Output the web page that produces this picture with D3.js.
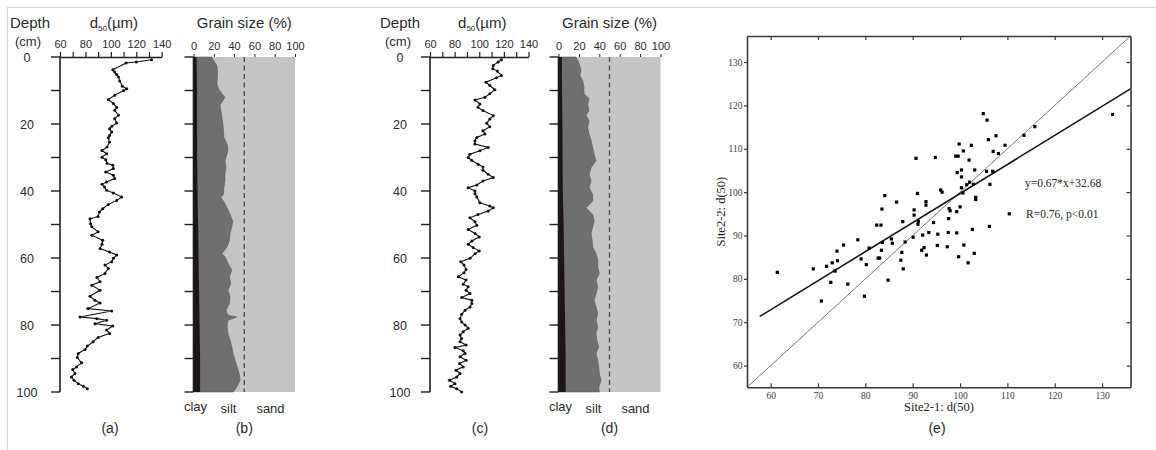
<!DOCTYPE html>
<html><head><meta charset="utf-8">
<script src="https://cdn.jsdelivr.net/npm/d3@7"></script>
<style>body{margin:0;background:#fff;}</style>
</head><body><svg id="c" width="1156" height="450" font-family="Liberation Sans, Arial, sans-serif"></svg>
<script>
// ---------- Panel (a): Site 2-1 d50 profile ----------
const depthA = [0.8,1.5,1.8,3.8,4.5,5.2,6,7.2,8.7,9.5,10,11.4,12.7,13.9,15.1,15.9,17.4,18.4,19.7,20.7,21.4,22.4,23.4,24.1,25.4,26.9,27.9,28.9,29.9,30.7,31.7,32.3,33.3,34.3,35.3,36.3,37.3,38,38.8,39.8,40.6,41.8,42.8,44,45.3,46.3,47.6,48.3,49.8,50.7,52.2,53.2,54.7,55.9,57.2,58.2,59.1,60.1,61.1,62.1,63.1,64.6,65.8,67.1,68.1,69.6,71.4,72.6,73.4,75.1,75.8,77.6,78.1,78.6,79.6,80.3,81.5,82.5,83.7,85,86.3,87.3,88.5,89.7,91.3,92.5,93.3,94.5,95.5,96.5,97.5,98.3,99];
const d50A = [132,120,112,101.5,103,104.6,106,107,109,112.5,110,103,98,102,104.6,103,106,103,104.6,100.7,99,100.7,99,98,99,97,93,96.7,93,96,97,101.5,102,96,102,103,96.7,93,95,96.7,102,108.5,104.6,98,93.6,91,90,83.6,84,85,90,85,93.6,93,91.5,99,104.6,102,100.7,95.4,98,95.4,89,91.5,85,91.5,83.6,87.5,91.5,82,100.7,75.7,89,96.7,87.5,101.5,96.7,99,90,86,81.5,79.7,74.4,73.6,77,73,70,71.8,69,71,74.4,78.4,81.5];

// ---------- Panel (c): Site 2-2 d50 profile ----------
const depthC = [0.8,1.5,2.5,3.5,4.2,5.5,6.2,7.5,8.5,9.8,11,12,12.8,14,15,16,17.5,18.5,19.8,20.8,22,23,24,25,26,27,28,29,30,30.8,32,32.8,33.8,35,36,37,38.2,39,40,40.8,41.8,43.5,44.5,45,46,47,48,49.2,50.2,51.5,52.7,53.7,54.9,55.9,56.9,57.9,58.7,60.1,61.1,62.1,63.4,64.4,65.6,66.6,67.8,68.6,69.6,70.6,71.8,72.6,73.6,74.6,75.6,76.8,78.1,79.1,80,81,82,83,84,85,86,86.7,87.7,88.5,89.5,90.5,91.5,92.5,93.5,94.5,95.5,96.5,97.5,98.3,99,100];
const d50C = [118,115.4,111.4,111,114.6,118,114,105.4,108.6,112.7,108.6,104.6,96.5,100.5,99,103,111.4,108.6,106,108.6,103,104.6,98,96.5,96.5,107.3,100.5,92.4,91,93.8,99,103,103,107.3,111.4,103,98,91,96.5,96.5,98,100.5,108.6,111.4,107.3,99,92.4,96.6,98,91,96.6,100,94,91,95,100,96.6,92.5,85,87.6,89.3,87.6,83,89.3,87,91,89.3,92.5,85.7,94,94,92.5,88.5,85.7,84.4,85.7,88.5,91,87,84.4,85.7,84.4,89.3,80.3,87,88.5,84.4,89.3,84,87,81,84.4,81.7,75.7,80.3,76.8,81.7,85.7];

// ---------- Panel (b): Site 2-1 grain size (cumulative %) ----------
const depthB = [0,1,2.5,4,6,8,9.5,11,12,13,14.4,16,18,20,22,24,26,27.4,29,31,33,35,37,39,41,42,43,45,47,49,50.7,52.7,54.7,56.7,58.7,59.6,61.6,63.6,65.6,67.6,69.6,71.6,73.6,75.6,77.1,77.6,78.6,80.5,82.5,84.5,86.5,88.5,90.5,92.5,94.5,96.5,98.5,100];
const siltTopB = [18,19.7,23,23.6,23.6,23,24.6,28,31,29,26,27,28,29,29.5,30,33,34,33,31,32,31,31,30,29.5,27,29.5,33,36,38.7,37.7,36,35.4,33,28,31,34,37.7,35.4,36.7,34,36,35.4,32,34,42.6,34,33,34,36,37.7,39,41,43,45,46,42.6,39];
const clayDepthB = [0,10,20,30,40,50,60,70,80,90,100];
const clayB = [3,3.5,3.5,3.6,4,4.5,5,5.5,6,6.5,6.5];

// ---------- Panel (d): Site 2-2 grain size (cumulative %) ----------
const depthD = [0,2,4,5.5,7,9,11,12.4,14,16,17.4,19,21,23,25,27,29,31,33,35,37,39,41,43,45,47,49,50.7,52.7,54.7,56.7,58.7,60.7,62.7,64.6,66.6,68.6,70.6,72.6,74.6,76.6,78.6,80.5,82.5,84.5,86.5,88.5,90.5,92.5,94.5,96.5,98.5,100];
const siltTopD = [17,20.4,22,21,23.7,25,25,30,28.6,30,27,30,28.6,30,32,33.5,35,36.8,32,30,32,30,33.5,33.5,27,33.5,35,33.5,32,33,33.5,36.8,38.5,38.5,40,36.8,38.5,36.8,35,36.8,38.5,36.8,38.5,36.8,37.5,39.5,36.8,38.5,39.5,40,41.8,39.5,40];
const clayDepthD = [0,10,20,30,40,50,60,70,80,90,100];
const clayD = [3.3,3.5,3.8,4,4.2,5,5.5,6,6.5,7,7];

// ---------- Panel (e): scatter Site2-1 vs Site2-2 d(50) ----------
const site21 = [61.4,69.0,70.7,71.8,72.7,73.0,73.6,74.0,74.1,75.4,76.3,78.4,79.1,79.8,80.2,80.8,82.4,83.3,82.7,83.0,83.4,83.6,83.5,84.1,84.8,85.5,85.7,86.6,87.5,87.7,87.9,88.0,88.4,90.1,90.3,90.3,90.7,91.0,91.2,91.1,91.9,92.1,92.4,92.9,92.8,92.8,93.4,94.4,94.8,95.3,95.2,95.9,96.2,97.3,97.5,97.6,97.7,97.9,99.1,99.6,99.3,99.3,99.4,99.7,99.8,100.0,100.3,100.3,100.3,100.6,100.7,100.8,101.4,101.7,101.9,102.0,102.4,102.6,102.8,103.0,103.1,103.3,103.3,104.9,105.6,105.7,106.0,106.2,106.3,106.9,107.0,107.6,108.1,109.5,110.4,113.5,115.8,132.2];
const site22 = [81.5,82.3,74.9,82.9,79.2,83.7,81.8,86.4,84.2,87.8,78.8,89.0,84.6,76.0,83.3,87.1,92.4,92.4,84.8,84.8,86.6,88.4,96.1,99.2,79.7,89.2,88.2,97.7,84.3,86.1,93.2,82.3,88.5,89.6,95.9,94.7,107.8,99.7,93.2,92.6,86.6,90.1,87.2,85.5,97.8,97.0,90.7,93.0,108.0,90.3,87.7,100.5,100.0,87.4,90.7,93.9,96.2,95.7,108.3,108.3,95.5,90.6,104.5,85.1,111.1,96.6,105.1,103.5,101.0,99.8,109.5,87.8,101.7,83.7,107.4,102.3,110.8,91.4,101.8,85.9,105.1,98.8,98.3,118.1,104.8,116.6,112.1,92.1,101.8,104.8,109.4,113.0,108.9,110.8,95.0,113.1,115.1,117.9];
const fitSlope = 0.67, fitIntercept = 32.68;
const scatterTicks = [60,70,80,90,100,110,120,130];

const svg = d3.select("#c");
const ink = "#1f1f1f";
const sans = "Liberation Sans, Arial, sans-serif";
const serif = "Liberation Serif, Times New Roman, serif";

// page frame lines
svg.append("line").attr("x1",7).attr("x2",1156).attr("y1",7.5).attr("y2",7.5).attr("stroke","#d4d4d4");
svg.append("line").attr("x1",7.5).attr("x2",7.5).attr("y1",7).attr("y2",450).attr("stroke","#d4d4d4");

const yDepth = d3.scaleLinear().domain([0,100]).range([57,392]);
const depthTicks = d3.range(0,101,10);

function txt(x,y,s,size,anchor){
  return svg.append("text").attr("x",x).attr("y",y).attr("font-size",size).attr("text-anchor",anchor||"start")
    .attr("fill","#2a2a2a").attr("font-family",sans).text(s);
}

function depthAxis(ax, labelX){
  const g = svg.append("g");
  g.append("line").attr("x1",ax).attr("x2",ax).attr("y1",yDepth(0)).attr("y2",yDepth(100)).attr("stroke",ink).attr("stroke-width",1.6);
  g.selectAll(".t").data(depthTicks).join("line")
    .attr("x1",ax-9).attr("x2",ax).attr("y1",d=>yDepth(d)).attr("y2",d=>yDepth(d)).attr("stroke",ink).attr("stroke-width",1.4);
  if(labelX!==null){
    g.selectAll(".l").data(depthTicks.filter(d=>d%20===0)).join("text")
      .attr("x",labelX).attr("y",d=>yDepth(d)+4.5).attr("text-anchor","middle").attr("font-size",12.5)
      .attr("fill","#2a2a2a").attr("font-family",sans).text(d=>d);
  }
}

function d50Panel(x0,x1,depths,vals,depthLabelX,letter,letterX){
  const x = d3.scaleLinear().domain([60,140]).range([x0,x1]);
  depthAxis(x0, depthLabelX);
  const ax = d3.axisTop(x).tickValues(d3.range(60,141,10)).tickSize(5).tickSizeOuter(0)
    .tickFormat(d=> d%20===0 ? d : "");
  const g = svg.append("g").attr("transform","translate(0,57)").call(ax);
  g.select(".domain").attr("stroke",ink).attr("stroke-width",1.6);
  g.selectAll(".tick line").attr("stroke",ink).attr("stroke-width",1.2);
  g.selectAll(".tick text").attr("font-size",11).attr("dy","-0.05em").attr("fill","#2a2a2a").attr("font-family",sans);
  const pts = depths.map((d,i)=>[x(vals[i]), yDepth(d)]);
  svg.append("path").attr("d", d3.line()(pts)).attr("fill","none").attr("stroke","#111").attr("stroke-width",1.1);
  svg.selectAll(null).data(pts).join("circle").attr("cx",p=>p[0]).attr("cy",p=>p[1]).attr("r",1.5).attr("fill","#111");
  const cx = (x0+x1)/2 + 3;
  const t = svg.append("text").attr("x",cx).attr("y",28).attr("text-anchor","middle").attr("font-size",15).attr("fill","#2a2a2a").attr("font-family",sans);
  t.append("tspan").text("d");
  t.append("tspan").attr("font-size",8).attr("dy",3).text("50");
  t.append("tspan").attr("dy",-3).text("(µm)");
  txt(x0-50,28,"Depth",15);
  txt(x0-45,45.5,"(cm)",13);
  txt(letterX,433,letter,14,"middle");
}

function grainPanel(x0,x1,depths,silt,clayDepths,clay,letter){
  const x = d3.scaleLinear().domain([0,100]).range([x0,x1]);
  svg.append("rect").attr("x",x(0)).attr("y",yDepth(0)).attr("width",x(100)-x(0)).attr("height",yDepth(100)-yDepth(0)).attr("fill","#c4c4c4");
  const siltArea = d3.area().y((d,i)=>yDepth(depths[i])).x0(x(0)).x1((d,i)=>x(silt[i]));
  svg.append("path").attr("d",siltArea(depths)).attr("fill","#6f6f6f").attr("stroke","#5a5a5a").attr("stroke-width",0.6);
  const clayArea = d3.area().y((d,i)=>yDepth(clayDepths[i])).x0(x(0)).x1((d,i)=>x(clay[i]));
  svg.append("path").attr("d",clayArea(clayDepths)).attr("fill","#1e1515");
  svg.append("line").attr("x1",x(50)).attr("x2",x(50)).attr("y1",yDepth(0)).attr("y2",yDepth(100))
    .attr("stroke","#4a4a4a").attr("stroke-width",1.3).attr("stroke-dasharray","5,3.5");
  depthAxis(x0, null);
  const ax = d3.axisTop(x).tickValues(d3.range(0,101,20)).tickSize(3).tickSizeOuter(0);
  const g = svg.append("g").attr("transform","translate(0,57)").call(ax);
  g.select(".domain").attr("stroke","none");
  g.selectAll(".tick line").attr("stroke",ink);
  g.selectAll(".tick text").attr("font-size",11).attr("dy","-0.05em").attr("fill","#2a2a2a").attr("font-family",sans);
  txt((x0+x1)/2,28,"Grain size (%)",15,"middle");
  txt(x0+2,411,"clay",13,"middle");
  txt(x0+35,413,"silt",13,"middle");
  txt(x0+77,413,"sand",13,"middle");
  txt(x(50),433,letter,14,"middle");
}

d50Panel(60,161.7,depthA,d50A,27,"(a)",110);
grainPanel(193.5,295,depthB,siltTopB,clayDepthB,clayB,"(b)");
d50Panel(430,528.5,depthC,d50C,400,"(c)",480);
grainPanel(558.5,660.5,depthD,siltTopD,clayDepthD,clayD,"(d)");

// ---------- Panel (e) ----------
(function(){
  const L=747, R=1130.5, T=36, B=387.3;
  const x = d3.scaleLinear().domain([55,136]).range([L,R]);
  const y = d3.scaleLinear().domain([55,136]).range([B,T]);
  const g = svg.append("g");
  g.append("line").attr("x1",x(55)).attr("y1",y(55)).attr("x2",x(136)).attr("y2",y(136)).attr("stroke","#7a7a7a").attr("stroke-width",1);
  const fx0 = 57.7, fx1 = 136;
  g.append("line").attr("x1",x(fx0)).attr("y1",y(fitSlope*fx0+fitIntercept)).attr("x2",x(fx1)).attr("y2",y(fitSlope*fx1+fitIntercept))
    .attr("stroke","#151515").attr("stroke-width",1.6);
  g.selectAll(".p").data(site21).join("rect")
    .attr("x",(d)=>x(d)-1.6).attr("y",(d,i)=>y(site22[i])-1.6).attr("width",3.2).attr("height",3.2).attr("fill","#000");
  const axB = d3.axisBottom(x).tickValues(scatterTicks).tickSize(-4).tickSizeOuter(0).tickPadding(5);
  const gb = g.append("g").attr("transform",`translate(0,${B})`).call(axB);
  const axL = d3.axisLeft(y).tickValues(scatterTicks).tickSize(3).tickSizeOuter(0).tickPadding(1.5);
  const gl = g.append("g").attr("transform",`translate(${L},0)`).call(axL);
  const axT = d3.axisTop(x).tickValues(scatterTicks).tickSize(-4).tickSizeOuter(0).tickFormat("");
  const gt = g.append("g").attr("transform",`translate(0,${T})`).call(axT);
  const axR = d3.axisRight(y).tickValues(scatterTicks).tickSize(-4).tickSizeOuter(0).tickFormat("");
  const gr = g.append("g").attr("transform",`translate(${R},0)`).call(axR);
  [gb,gl,gt,gr].forEach(a=>{
    a.select(".domain").attr("stroke","#3a3a3a").attr("stroke-width",1.6);
    a.selectAll(".tick line").attr("stroke","#3a3a3a").attr("stroke-width",1.2);
    a.selectAll(".tick text").attr("font-size",9.5).attr("font-family",serif).attr("fill","#3a3a3a");
  });
  const stxt = (x,y,s,size,anchor)=> g.append("text").attr("x",x).attr("y",y).attr("font-size",size)
      .attr("text-anchor",anchor||"start").attr("font-family",serif).attr("fill","#222").text(s);
  stxt(939,411,"Site2-1: d(50)",12.5,"middle");
  g.append("text").attr("transform",`translate(725,${(T+B)/2}) rotate(-90)`).attr("text-anchor","middle")
    .attr("font-size",12.5).attr("font-family",serif).attr("fill","#222").text("Site2-2: d(50)");
  stxt(1025,187,"y=0.67*x+32.68",11.5);
  stxt(1026,217.5,"R=0.76, p<0.01",11.5);
  txt(937,433,"(e)",14,"middle");
})();
</script></body></html>
